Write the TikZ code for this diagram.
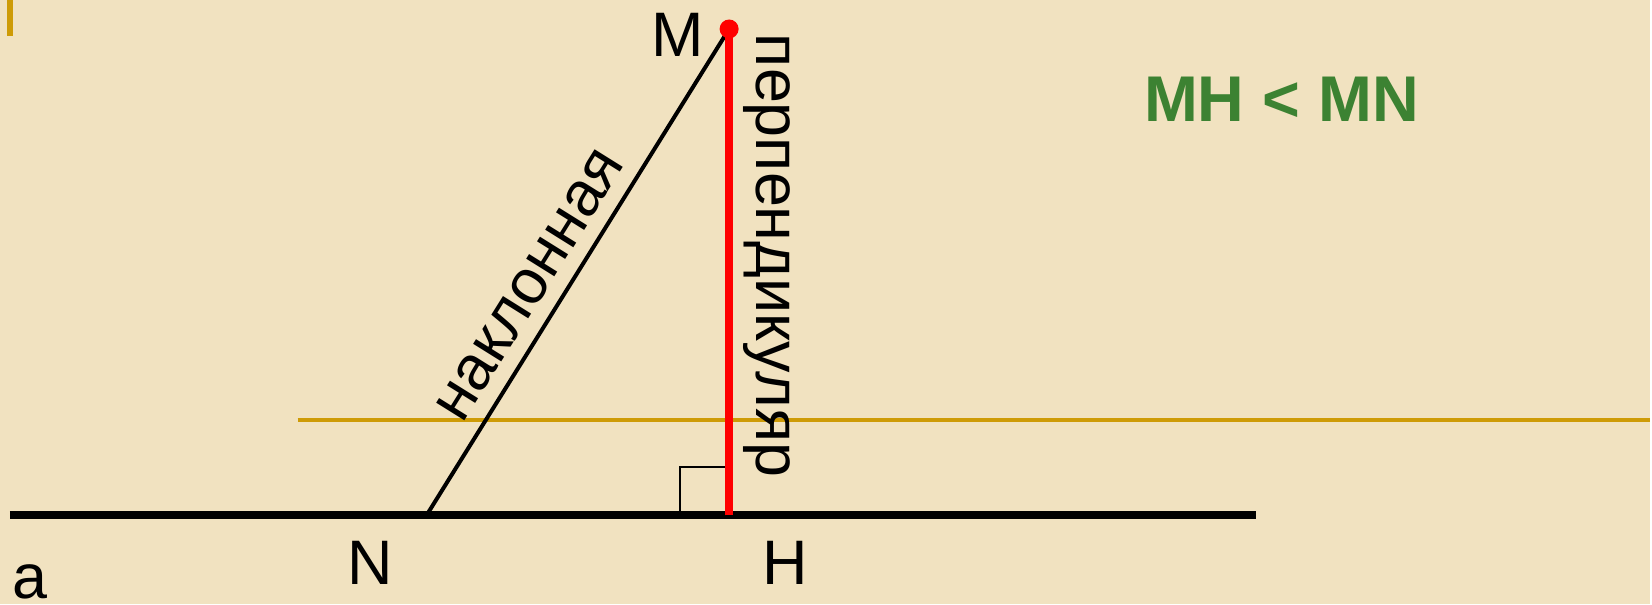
\documentclass[tikz,border=0pt]{standalone}
\usepackage{fontspec}
\setmainfont{Liberation Sans}
\usetikzlibrary{positioning, calc}

\definecolor{parchment}{RGB}{241,226,192}
\definecolor{gold}{RGB}{206,155,6}
\definecolor{darkgreen}{RGB}{60,130,50}

\begin{document}
\begin{tikzpicture}[
    x=0.01cm, y=0.01cm,
    font=\fontsize{17.9pt}{21pt}\selectfont,
    % one style per kind of stroke: widths are given in pixels of the slide
    lbl/.style    = {inner sep=0pt},
    aline/.style  = {black, line width=0.08cm},
    perp/.style   = {red, line width=0.08cm},
    slant/.style  = {black, line width=0.04cm},
    rangle/.style = {black, line width=0.02cm},
    guide/.style  = {gold, line width=0.04cm},
  ]

  %% ---------- background ----------
  \fill[parchment] (0,-605) rectangle (1652,0);
  \fill[gold] (7,0) rectangle (13,-36);
  \draw[guide] (298,-420) -- (1652,-420);

  %% ---------- points ----------
  \coordinate (M)  at (730,-29);
  \coordinate (H)  at (730,-516);
  \coordinate (N)  at (427,-516);
  \coordinate (aW) at (10,-516);
  \coordinate (aE) at (1258,-516);

  %% ---------- line a, the slant and the perpendicular ----------
  \draw[aline] (aW) -- (aE);
  \draw[slant] (N) -- (M);
  \draw[rangle] ($(H)+(-49,0)$) |- ($(H)+(0,48)$);
  \draw[perp] (H) -- (M);
  \fill[red] (M) circle (0.095cm);

  %% ---------- labels ----------
  \node[lbl, anchor=base]      (Mlbl) at (678,-57)  {M};
  \node[lbl, anchor=base]      (Nlbl) at (371,-585) {N};
  \node[lbl, anchor=base]      (Hlbl) at (786,-585) {H};
  \node[lbl, anchor=base west] (albl) at (12,-599)  {a};

  \node[lbl, anchor=south, rotate=58] (slantlbl) at (546,-295) {наклонная};
  \node[lbl, anchor=base, rotate=-90] (perplbl)  at (757,-256) {перпендикуляр};

  \node[lbl, anchor=base, text=darkgreen, font=\fontsize{18.4pt}{22pt}\selectfont\bfseries]
    (cmp) at (1283,-122) {MH < MN};
\end{tikzpicture}
\end{document}
